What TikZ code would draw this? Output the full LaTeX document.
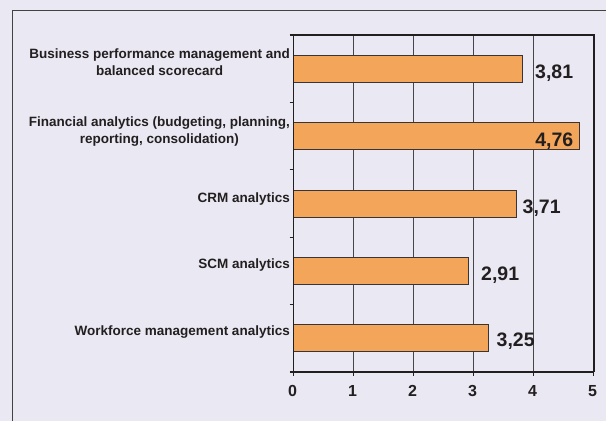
\documentclass[tikz,border=0pt]{standalone}
\usepackage{fontspec}
\setmainfont{Liberation Sans}
\definecolor{bg}{RGB}{234,232,242}
\definecolor{barfill}{RGB}{243,166,90}
\definecolor{ink}{RGB}{35,31,32}
\definecolor{gridc}{RGB}{70,70,72}
\begin{document}
\begin{tikzpicture}[x=1bp,y=-1bp,
  frameline/.style={draw=ink!85, line width=1bp},
  gridline/.style={draw=gridc, line width=0.9bp},
  axisline/.style={draw=ink, line width=1.1bp},
  barbox/.style={draw=ink!90, line width=0.9bp, fill=barfill},
  cat/.style={inner sep=0pt, text=ink, font=\fontsize{13.5bp}{16.7bp}\selectfont\bfseries},
  val/.style={inner sep=0pt, text=ink, font=\fontsize{19.5bp}{22bp}\selectfont\bfseries},
  ticklab/.style={inner sep=0pt, text=ink, font=\fontsize{16bp}{19bp}\selectfont\bfseries}]
\useasboundingbox (0,0) rectangle (606,421);
\fill[bg] (0,0) rectangle (606,421);
% outer frame (top and left edges)
\draw[frameline] (12.7,421) -- (12.7,10) -- (606,10);
% vertical grid lines
\foreach \k in {1,...,4}
  \draw[gridline] (293.5+60*\k,35) -- (293.5+60*\k,372);
% plot border
\draw[axisline] (293.5,35) -- (594,35) -- (594,372);
% bars
\foreach \v/\k in {3.81/0,4.76/1,3.71/2,2.91/3,3.25/4}
  \draw[barbox] (293.5,68.75+67.4*\k-13.5) rectangle (293.5+60*\v,68.75+67.4*\k+13.5);
% axes
\draw[axisline] (293.5,35) -- (293.5,372) -- (594,372);
\foreach \k in {0,...,5}
  \draw[axisline] (289.5,35+67.4*\k) -- (293.5,35+67.4*\k);
\foreach \k in {0,...,5}
  \draw[axisline] (293.5+60*\k,372) -- (293.5+60*\k,375.5);
% tick labels
\foreach \k in {0,...,5}
  \node[ticklab, anchor=base] (t\k) at (292.5+60*\k,396.7) {\k};
% value labels
\node[val, anchor=base west] (v1) at (535,78.3) {3,81};
\node[val, anchor=base east] (v2) at (573.5,146) {4,76};
\node[val, anchor=base west] (v3) at (522.5,213.3) {3,71};
\node[val, anchor=base west] (v4) at (481,280) {2,91};
\node[val, anchor=base west] (v5) at (496.5,346.7) {3,25};
% category labels
\node[cat, anchor=base east] (c1a) at (290,58.3) {Business performance management and};
\node[cat, anchor=base] (c1b) at ([yshift=-16.7bp]c1a.base) {balanced scorecard};
\node[cat, anchor=base east] (c2a) at (290,126.7) {Financial analytics (budgeting, planning,};
\node[cat, anchor=base] (c2b) at ([yshift=-16.7bp]c2a.base) {reporting, consolidation)};
\node[cat, anchor=base east] (c3) at (290,202.3) {CRM analytics};
\node[cat, anchor=base east] (c4) at (290,268.3) {SCM analytics};
\node[cat, anchor=base east] (c5) at (290,335) {Workforce management analytics};
\end{tikzpicture}
\end{document}
